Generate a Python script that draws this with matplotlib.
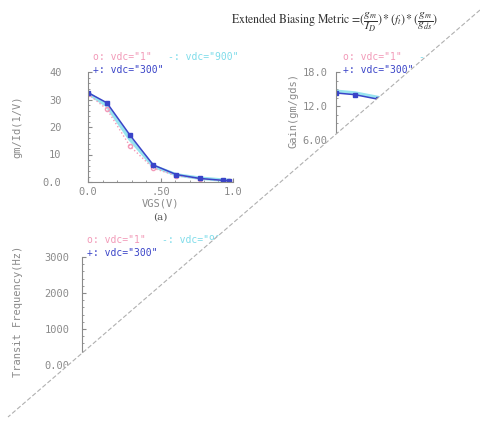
import matplotlib
matplotlib.use('Agg')
import matplotlib.pyplot as plt
from matplotlib.patches import Polygon
from matplotlib.lines import Line2D

# data
vgs = [0.0, 0.13, 0.29, 0.45, 0.61, 0.77, 0.93, 0.97]
gmid_300 = [32.5, 28.8, 17.0, 6.2, 2.7, 1.3, 0.6, 0.5]
gmid_900 = [32.3, 27.8, 15.5, 5.8, 2.6, 1.4, 0.7, 0.6]
gmid_1 = [32.0, 26.5, 13.0, 5.0, 2.3, 1.2, 0.5, 0.4]
gain_300 = [14.3, 14.0, 13.2, 12.0, 10.8, 9.8, 9.0, 8.8]
gain_900 = [14.6, 14.3, 13.5, 12.4, 11.2, 10.2, 9.4, 9.2]
ft_300 = [20, 150, 700, 1500, 2100, 2500, 2700, 2750]
ft_900 = [20, 140, 650, 1400, 2000, 2400, 2600, 2650]

pink = '#f29ab8'
cyan = '#7fdcea'
blue = '#3a44c8'
grey = '#8a8a8a'
mono = 'DejaVu Sans Mono'

plt.rcParams['mathtext.fontset'] = 'stix'
fig = plt.figure(figsize=(4.8, 4.21), dpi=100)

def px(x0, y0, x1, y1):
    # pixel box (left, top, right, bottom) -> figure fraction rect
    return [x0 / 480, (421 - y1) / 421, (x1 - x0) / 480, (y1 - y0) / 421]

def style(ax, ypad):
    for s in ['top', 'right']:
        ax.spines[s].set_visible(False)
    for s in ['left', 'bottom']:
        ax.spines[s].set_color(grey)
        ax.spines[s].set_linewidth(0.8)
    ax.minorticks_on()
    ax.tick_params(which='both', direction='in', colors=grey, labelsize=7.5, length=3)
    ax.tick_params(which='minor', length=1.5)
    ax.tick_params(axis='y', pad=ypad)
    for t in ax.get_xticklabels() + ax.get_yticklabels():
        t.set_fontfamily(mono)

def legend(x, y, entries):
    for i, row in enumerate(entries):
        for (tx, dx, col) in row:
            fig.text((x + dx) / 480, (421 - y - 13 * i) / 421, tx, color=col,
                     fontsize=7, family=mono, va='center')

# (a) gm/Id
ax1 = fig.add_axes(px(88, 72, 233, 182))
ax1.plot(vgs, gmid_900, color=cyan, lw=2.5, alpha=0.8)
ax1.plot(vgs, gmid_1, color=pink, lw=1, ls=':', marker='o', ms=3, mfc='none')
ax1.plot(vgs, gmid_300, color=blue, lw=1.1, marker='s', ms=2.5)
ax1.set_xlim(0, 1.0)
ax1.set_ylim(0, 40)
ax1.set_xticks([0, 0.5, 1.0])
ax1.set_xticklabels(['0.0', '.50', '1.0'])
ax1.set_yticks([0, 10, 20, 30, 40])
ax1.set_yticklabels(['0.0', '10', '20', '30', '40'])
style(ax1, 19)
ax1.set_ylabel('gm/Id(1/V)', color=grey, fontsize=7.5, family=mono)
ax1.yaxis.set_label_coords(-0.45, 0.5)
ax1.set_xlabel('VGS(V)', color=grey, fontsize=7.5, family=mono, labelpad=1)
fig.text(160 / 480, (421 - 217) / 421, '(a)', fontsize=7.5, family='serif',
         color='#555555', ha='center', va='center')
legend(93, 57, [[('o: vdc="1"', 0, pink), ('-: vdc="900"', 75, cyan)],
                [('+: vdc="300"', 0, blue)]])

# gain
ax2 = fig.add_axes(px(336, 72, 481, 174))
ax2.plot(vgs, gain_900, color=cyan, lw=2.5, alpha=0.8)
ax2.plot(vgs, gain_300, color=blue, lw=1.1, marker='s', ms=2.5)
ax2.set_xlim(0, 1.0)
ax2.set_ylim(0, 18)
ax2.set_yticks([6, 12, 18])
ax2.set_yticklabels(['6.00', '12.0', '18.0'])
style(ax2, 6)
ax2.tick_params(axis='x', labelbottom=False)
ax2.set_ylabel('Gain(gm/gds)', color=grey, fontsize=7.5, family=mono)
ax2.yaxis.set_label_coords(-0.26, 0.62)
legend(343, 57, [[('o: vdc="1"', 0, pink), ('-', 75, cyan)],
                 [('+: vdc="300"', 0, blue)]])

# transit frequency
ax3 = fig.add_axes(px(82, 257, 227, 365))
ax3.plot(vgs, ft_900, color=cyan, lw=2.5, alpha=0.8)
ax3.plot(vgs, ft_300, color=blue, lw=1.1, marker='s', ms=2.5)
ax3.set_xlim(0, 1.0)
ax3.set_ylim(0, 3000)
ax3.set_yticks([0, 1000, 2000, 3000])
ax3.set_yticklabels(['0.00', '1000', '2000', '3000'])
style(ax3, 9)
ax3.tick_params(axis='x', labelbottom=False)
ax3.set_ylabel('Transit Frequency(Hz)', color=grey, fontsize=7.5, family=mono)
ax3.yaxis.set_label_coords(-0.41, 0.5)
legend(87, 240, [[('o: vdc="1"', 0, pink), ('-: vdc="900"', 75, cyan)],
                 [('+: vdc="300"', 0, blue)]])

# title
fig.text(335 / 480, (421 - 22) / 421,
         r'Extended Biasing Metric =$(\dfrac{g_m}{I_D})*(f_t)*(\dfrac{g_m}{g_{ds}})$',
         fontsize=8.5, family='STIXGeneral', ha='center', va='center', color='#333333')

# torn-page diagonal covering the lower right
a = (480 / 480, (421 - 10) / 421)
b = (8 / 480, (421 - 417) / 421)
fig.add_artist(Polygon([a, b, (0, -0.01), (1.01, -0.01), (1.01, a[1])],
                       closed=True, transform=fig.transFigure,
                       facecolor='white', edgecolor='none', zorder=10))
fig.add_artist(Line2D([a[0], b[0]], [a[1], b[1]], transform=fig.transFigure,
                      color='#b0b0b0', lw=0.8, ls=(0, (4, 2)), zorder=11))

fig.savefig('out.png', dpi=100)
